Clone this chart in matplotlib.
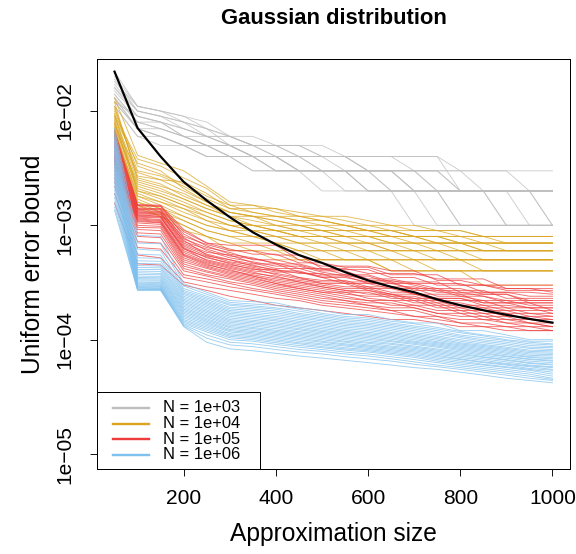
import matplotlib
matplotlib.use("Agg")
import matplotlib.pyplot as plt
from matplotlib.lines import Line2D
from matplotlib.patches import Rectangle
from matplotlib.ticker import FixedLocator, NullLocator
import numpy as np

plt.rcParams['font.family'] = ['Liberation Sans', 'DejaVu Sans']

# approximation sizes (grid)
sizes = list(range(50, 1001, 50))

# N = 1e3 : error bounds in units of 1e-3
gray_units = 1e-3
gray_lines = [
    [22, 11, 10, 9, 8, 6, 6, 5, 5, 5, 4, 4, 4, 4, 4, 3, 3, 3, 3, 3],
    [18, 11, 10, 8, 7, 6, 5, 5, 4, 4, 4, 4, 4, 3, 3, 3, 2, 2, 2, 2],
    [16, 10, 9, 8, 6, 6, 5, 5, 5, 4, 4, 3, 3, 3, 3, 3, 3, 3, 2, 2],
    [15, 9, 8, 7, 6, 5, 5, 4, 4, 4, 3, 3, 3, 3, 2, 2, 2, 2, 2, 2],
    [14, 8, 8, 7, 6, 5, 4, 4, 4, 3, 3, 3, 3, 2, 2, 2, 2, 2, 1, 1],
    [13, 8, 7, 6, 6, 5, 4, 4, 3, 3, 3, 3, 2, 2, 2, 2, 2, 2, 2, 2],
    [13, 7, 7, 6, 5, 4, 4, 3, 3, 3, 3, 3, 2, 2, 2, 1, 1, 1, 1, 1],
    [12, 9, 8, 6, 5, 5, 4, 4, 3, 3, 3, 2, 2, 2, 2, 2, 2, 1, 1, 1],
    [12, 7, 6, 5, 5, 4, 4, 4, 3, 3, 3, 3, 3, 2, 2, 2, 2, 2, 2, 2],
    [11, 6, 6, 5, 4, 4, 3, 3, 3, 2, 2, 2, 2, 1, 1, 1, 1, 1, 1, 1],
    [11, 6, 5, 5, 4, 4, 4, 3, 3, 3, 3, 2, 2, 2, 2, 1, 1, 1, 1, 1],
    [17, 10, 9, 8, 7, 5, 5, 5, 4, 4, 4, 3, 3, 3, 3, 2, 2, 2, 2, 2],
    [19, 10, 9, 7, 6, 6, 5, 4, 4, 4, 4, 3, 3, 3, 2, 2, 2, 2, 2, 1],
    [14, 8, 7, 6, 5, 5, 4, 4, 3, 3, 3, 3, 3, 2, 2, 2, 2, 1, 1, 1],
    [12, 7, 6, 5, 4, 4, 4, 3, 3, 3, 2, 2, 2, 2, 2, 2, 2, 2, 2, 2],
    [16, 9, 8, 6, 5, 5, 4, 4, 4, 3, 3, 3, 3, 3, 3, 2, 2, 2, 2, 1],
    [20, 11, 10, 9, 7, 6, 5, 5, 5, 4, 4, 4, 4, 4, 4, 2, 2, 2, 2, 2],
    [13, 7, 6, 5, 5, 4, 3, 3, 3, 3, 3, 2, 2, 2, 1, 1, 1, 1, 1, 1],
]

# N = 1e4 : units of 1e-4
gold_units = 1e-4
gold_lines = [
    [130, 41, 35, 30, 22, 16, 15, 14, 13, 12, 12, 11, 10, 10, 9, 9, 8, 8, 8, 8],
    [92, 38, 33, 26, 21, 15, 15, 13, 12, 12, 11, 10, 10, 9, 9, 8, 8, 8, 8, 8],
    [110, 27, 25, 24, 19, 14, 14, 14, 12, 11, 10, 10, 9, 9, 9, 9, 8, 8, 8, 8],
    [105, 33, 28, 23, 18, 15, 13, 12, 12, 11, 10, 9, 9, 8, 8, 8, 8, 7, 7, 7],
    [100, 30, 27, 22, 17, 14, 13, 12, 11, 11, 10, 9, 8, 8, 8, 7, 7, 7, 7, 7],
    [76, 29, 25, 20, 16, 13, 12, 12, 11, 10, 9, 9, 9, 8, 8, 8, 7, 7, 7, 7],
    [120, 25, 22, 19, 15, 13, 12, 11, 10, 10, 10, 9, 8, 8, 7, 7, 7, 7, 7, 7],
    [90, 26, 23, 18, 15, 12, 12, 11, 10, 9, 9, 9, 9, 8, 8, 7, 7, 7, 7, 7],
    [88, 35, 30, 21, 16, 13, 12, 10, 10, 9, 9, 8, 8, 8, 7, 7, 7, 6, 6, 6],
    [85, 24, 21, 17, 14, 12, 11, 10, 9, 9, 8, 8, 8, 7, 7, 7, 6, 6, 6, 6],
    [72, 23, 20, 17, 14, 12, 10, 10, 9, 8, 8, 8, 7, 7, 7, 6, 6, 6, 6, 6],
    [80, 22, 19, 16, 13, 11, 10, 9, 9, 9, 8, 7, 7, 7, 7, 7, 6, 6, 6, 6],
    [78, 21, 18, 15, 13, 11, 10, 9, 8, 8, 8, 8, 7, 7, 6, 6, 6, 6, 6, 6],
    [95, 20, 18, 15, 12, 10, 10, 9, 8, 8, 7, 7, 7, 6, 6, 6, 6, 6, 6, 6],
    [74, 20, 17, 14, 12, 10, 9, 9, 8, 7, 7, 7, 6, 6, 6, 6, 5, 5, 5, 5],
    [82, 19, 16, 14, 11, 10, 9, 8, 8, 8, 7, 7, 6, 6, 6, 5, 5, 5, 5, 5],
    [70, 18, 16, 13, 11, 9, 9, 8, 7, 7, 7, 6, 6, 6, 5, 5, 5, 5, 5, 5],
    [68, 18, 15, 12, 10, 9, 8, 8, 7, 7, 6, 6, 6, 5, 5, 5, 5, 5, 5, 5],
    [66, 17, 14, 12, 10, 9, 8, 7, 7, 6, 6, 6, 5, 5, 5, 5, 5, 5, 5, 5],
    [65, 16, 14, 11, 9, 8, 8, 7, 6, 6, 6, 5, 5, 5, 5, 5, 4, 4, 4, 4],
    [64, 16, 13, 11, 9, 8, 7, 7, 6, 6, 5, 5, 5, 5, 4, 4, 4, 4, 4, 4],
    [62, 15, 13, 10, 8, 7, 7, 6, 6, 5, 5, 5, 4, 4, 4, 4, 4, 4, 4, 4],
    [60, 15, 12, 10, 8, 7, 6, 6, 5, 5, 5, 5, 5, 4, 4, 4, 4, 4, 4, 4],
    [63, 14, 12, 9, 8, 6, 6, 5, 5, 5, 5, 5, 4, 4, 4, 4, 3, 3, 3, 3],
]

# N = 1e5 : units of 1e-5
red_units = 1e-5
red_lines = [
    [680, 152, 150, 92, 70, 67, 67, 67, 50, 44, 44, 44, 40, 40, 33, 33, 30, 30, 30, 30],
    [640, 148, 146, 88, 70, 62, 56, 56, 47, 47, 43, 43, 37, 37, 37, 30, 30, 28, 28, 28],
    [610, 150, 148, 80, 68, 60, 60, 55, 55, 42, 42, 38, 38, 38, 34, 34, 34, 28, 28, 26],
    [590, 142, 140, 84, 66, 56, 52, 46, 46, 41, 41, 41, 35, 35, 30, 30, 30, 27, 27, 27],
    [570, 140, 138, 76, 64, 58, 50, 50, 45, 40, 40, 34, 34, 31, 31, 31, 26, 26, 26, 25],
    [550, 138, 136, 72, 62, 54, 51, 47, 42, 42, 37, 37, 32, 32, 32, 26, 26, 26, 24, 24],
    [530, 135, 132, 78, 60, 52, 48, 44, 44, 39, 36, 36, 31, 31, 28, 28, 25, 25, 22, 22],
    [510, 132, 130, 70, 58, 55, 47, 42, 42, 37, 37, 33, 33, 30, 27, 27, 27, 23, 23, 23],
    [500, 130, 128, 68, 56, 50, 46, 46, 39, 36, 36, 31, 31, 28, 28, 25, 25, 25, 21, 21],
    [480, 128, 126, 74, 55, 48, 45, 40, 40, 35, 35, 32, 29, 29, 26, 26, 24, 22, 22, 22],
    [470, 126, 124, 66, 54, 50, 44, 41, 38, 38, 32, 32, 32, 27, 27, 24, 24, 21, 21, 21],
    [450, 124, 120, 64, 52, 47, 43, 39, 39, 35, 31, 31, 28, 28, 24, 24, 22, 22, 20, 20],
    [440, 122, 120, 62, 53, 46, 41, 41, 35, 33, 33, 29, 29, 25, 25, 25, 21, 21, 19, 19],
    [420, 120, 118, 60, 50, 45, 42, 37, 34, 32, 32, 28, 28, 25, 23, 23, 21, 21, 21, 18],
    [410, 118, 116, 63, 49, 44, 40, 38, 35, 31, 29, 29, 26, 26, 23, 23, 20, 20, 19, 19],
    [400, 116, 112, 58, 48, 43, 39, 35, 33, 31, 31, 27, 25, 25, 22, 22, 22, 19, 19, 17],
    [390, 114, 110, 56, 47, 42, 38, 36, 32, 30, 28, 28, 25, 23, 23, 20, 20, 18, 18, 18],
    [380, 112, 108, 55, 46, 40, 37, 34, 32, 29, 27, 27, 24, 24, 21, 21, 19, 19, 17, 17],
    [370, 110, 106, 54, 45, 41, 36, 33, 31, 29, 27, 25, 25, 22, 22, 19, 19, 17, 17, 16],
    [360, 108, 105, 52, 44, 39, 36, 32, 30, 28, 26, 26, 23, 23, 20, 20, 18, 18, 16, 16],
    [350, 105, 102, 50, 43, 38, 35, 31, 29, 27, 25, 24, 24, 21, 21, 18, 18, 16, 16, 15],
    [340, 100, 98, 48, 42, 37, 34, 31, 28, 26, 26, 23, 22, 22, 19, 19, 17, 17, 15, 15],
    [320, 96, 95, 46, 40, 36, 33, 30, 28, 26, 24, 22, 22, 20, 20, 17, 17, 15, 15, 14],
    [300, 92, 90, 44, 39, 35, 32, 29, 27, 25, 23, 22, 20, 20, 18, 18, 16, 16, 14, 14],
    [280, 86, 84, 42, 37, 34, 31, 28, 26, 24, 22, 21, 21, 19, 17, 17, 15, 15, 14, 13],
    [260, 80, 78, 40, 36, 32, 30, 27, 25, 23, 22, 20, 19, 19, 17, 16, 16, 14, 14, 13],
    [240, 72, 70, 37, 34, 31, 28, 26, 24, 22, 21, 20, 18, 18, 16, 15, 15, 14, 13, 13],
    [220, 64, 62, 35, 32, 29, 27, 25, 23, 21, 20, 19, 18, 16, 16, 14, 14, 13, 13, 12],
    [190, 55, 52, 32, 29, 27, 25, 23, 22, 20, 19, 18, 17, 16, 15, 14, 13, 13, 12, 12],
    [156, 46, 45, 30, 27, 24, 22, 20, 19, 18, 17, 16, 15, 15, 14, 13, 13, 12, 12, 12],
]

# N = 1e6 : units of 1e-6
blue_units = 1e-6
blue_lines = [
    [7000, 820, 800, 310, 260, 220, 215, 210, 190, 180, 166, 166, 150, 140, 140, 120, 120, 110, 100, 100],
    [6500, 700, 690, 295, 250, 212, 205, 200, 185, 170, 160, 155, 145, 138, 128, 118, 110, 105, 97, 97],
    [6200, 620, 600, 280, 240, 205, 198, 190, 178, 165, 155, 150, 140, 132, 124, 115, 108, 100, 95, 92],
    [5900, 560, 550, 270, 232, 200, 192, 185, 170, 160, 150, 145, 136, 128, 120, 110, 104, 98, 92, 90],
    [5600, 520, 515, 262, 225, 192, 186, 178, 165, 155, 146, 140, 132, 124, 116, 107, 100, 95, 89, 87],
    [5400, 490, 485, 255, 218, 186, 180, 172, 160, 150, 141, 136, 128, 120, 112, 104, 97, 92, 86, 85],
    [5100, 465, 460, 248, 212, 180, 174, 166, 155, 146, 137, 132, 124, 116, 108, 100, 94, 89, 84, 82],
    [4900, 445, 440, 240, 206, 175, 168, 160, 150, 141, 133, 128, 120, 112, 105, 97, 91, 86, 81, 80],
    [4700, 428, 425, 233, 200, 170, 163, 155, 145, 137, 129, 124, 116, 109, 102, 94, 89, 84, 79, 78],
    [4500, 412, 410, 226, 194, 165, 158, 150, 141, 133, 125, 120, 113, 106, 99, 92, 87, 82, 77, 76],
    [4300, 398, 395, 220, 188, 160, 153, 146, 137, 129, 121, 116, 110, 103, 96, 90, 85, 80, 75, 74],
    [4100, 385, 380, 214, 182, 155, 148, 141, 133, 125, 118, 113, 107, 100, 94, 88, 83, 78, 73, 72],
    [3900, 372, 370, 208, 177, 150, 144, 137, 129, 121, 115, 110, 104, 97, 92, 86, 81, 76, 71, 70],
    [3700, 360, 358, 202, 172, 146, 140, 133, 125, 118, 112, 107, 101, 95, 90, 84, 79, 74, 70, 68],
    [3550, 350, 348, 196, 167, 142, 136, 129, 122, 115, 109, 104, 98, 93, 88, 82, 77, 72, 68, 66],
    [3400, 342, 340, 190, 162, 138, 132, 125, 118, 112, 106, 101, 96, 91, 86, 80, 75, 71, 67, 65],
    [3250, 334, 332, 185, 158, 134, 128, 121, 115, 109, 103, 98, 93, 88, 83, 78, 73, 69, 65, 63],
    [3100, 326, 325, 180, 153, 130, 125, 118, 112, 106, 100, 95, 91, 86, 81, 76, 71, 67, 63, 61],
    [2950, 318, 316, 175, 149, 127, 121, 115, 109, 103, 97, 93, 88, 84, 79, 74, 70, 66, 62, 60],
    [2800, 311, 310, 170, 145, 123, 118, 112, 106, 100, 95, 90, 86, 82, 77, 72, 68, 64, 60, 58],
    [2650, 305, 303, 165, 141, 120, 115, 109, 103, 97, 92, 88, 84, 80, 75, 70, 66, 62, 59, 57],
    [2500, 299, 298, 160, 137, 117, 112, 106, 100, 95, 90, 86, 82, 78, 73, 68, 64, 61, 58, 55],
    [2350, 294, 292, 155, 133, 113, 109, 103, 97, 92, 88, 84, 80, 76, 71, 67, 63, 60, 56, 54],
    [2200, 290, 288, 150, 129, 110, 106, 100, 94, 90, 85, 82, 78, 74, 69, 65, 61, 58, 55, 52],
    [2050, 286, 284, 146, 125, 107, 103, 97, 92, 87, 83, 80, 76, 72, 67, 63, 60, 57, 54, 50],
    [1900, 282, 280, 142, 121, 104, 100, 94, 89, 85, 81, 78, 74, 70, 65, 61, 58, 55, 52, 48],
    [1750, 278, 277, 138, 117, 100, 97, 91, 86, 82, 78, 75, 71, 67, 63, 59, 56, 53, 50, 46],
    [1600, 275, 274, 135, 110, 95, 92, 87, 82, 79, 75, 72, 68, 64, 60, 57, 54, 51, 48, 45],
    [1450, 272, 272, 132, 103, 90, 87, 82, 78, 75, 71, 68, 65, 61, 58, 55, 52, 49, 46, 44],
    [1350, 270, 270, 130, 95, 83, 80, 76, 72, 69, 66, 63, 60, 57, 55, 52, 49, 46, 44, 42],
]

# reference curve (black)
bound_curve = [0.0221, 0.0071, 0.0040, 0.0024, 0.00165, 0.00118, 0.00087, 0.00068,
               0.00055, 0.00047, 0.00039, 0.00033, 0.00029, 0.00026, 0.000225,
               0.00020, 0.000181, 0.000165, 0.000152, 0.000141]

legend_labels = ["N = 1e+03", "N = 1e+04", "N = 1e+05", "N = 1e+06"]
colors = ["#BEBEBE", "#DAA520", "#EE3B3B", "#7EC0EE"]

groups = [(gray_lines, gray_units), (gold_lines, gold_units),
          (red_lines, red_units), (blue_lines, blue_units)]

W, H = 576, 554
fig = plt.figure(figsize=(W / 72, H / 72), dpi=72)
ax = fig.add_axes([97 / W, 1 - 469 / H, (570 - 97) / W, (469 - 59) / H])

x = np.array(sizes)
for (lines, unit), col in zip(groups, colors):
    for ln in lines:
        ax.plot(x, np.array(ln) * unit, color=col, lw=0.9, alpha=0.75)

ax.plot(x, bound_curve, color='black', lw=2.2)

ax.set_yscale('log')
ax.set_xlim(12, 1038)
ax.set_ylim(10 ** -5.131, 10 ** -1.545)

ax.xaxis.set_major_locator(FixedLocator([200, 400, 600, 800, 1000]))
ax.set_xticklabels(["200", "400", "600", "800", "1000"])
ax.yaxis.set_major_locator(FixedLocator([1e-5, 1e-4, 1e-3, 1e-2]))
ax.yaxis.set_minor_locator(NullLocator())
ax.set_yticklabels(["1e\u221205", "1e\u221204", "1e\u221203", "1e\u221202"])
ax.tick_params(axis='both', direction='out', length=7, width=0.9, labelsize=21)
ax.tick_params(axis='x', pad=13)
ax.tick_params(axis='y', pad=25)
for lab in ax.get_yticklabels():
    lab.set_rotation(90)
    lab.set_va('center')
    lab.set_ha('center')

for sp in ax.spines.values():
    sp.set_linewidth(1.0)
    sp.set_color('black')

ax.set_xlabel("Approximation size", fontsize=24.5, labelpad=14)
ax.set_ylabel("Uniform error bound", fontsize=24.5, labelpad=10)
fig.text(0.5 * (97 + 570) / W, 1 - 24 / H, "Gaussian distribution",
         ha='center', va='baseline', fontsize=22, fontweight='bold')

# legend box drawn in figure pixel coordinates
def fx(px):
    return px / W

def fy(py):
    return 1 - py / H

fig.patches.append(Rectangle((fx(97), fy(469)), fx(260) - fx(97), fy(392) - fy(469),
                             transform=fig.transFigure, facecolor='white',
                             edgecolor='black', lw=1.0, zorder=5))
row_y = [408, 423.5, 439, 454.5]
for yy, col, lab in zip(row_y, colors, legend_labels):
    fig.lines.append(Line2D([fx(113), fx(149)], [fy(yy), fy(yy)], color=col, lw=2.4,
                            transform=fig.transFigure, zorder=6))
    fig.text(fx(163), fy(yy), lab, fontsize=16.5, ha='left', va='center', zorder=7)

fig.savefig("out.png", dpi=72)
